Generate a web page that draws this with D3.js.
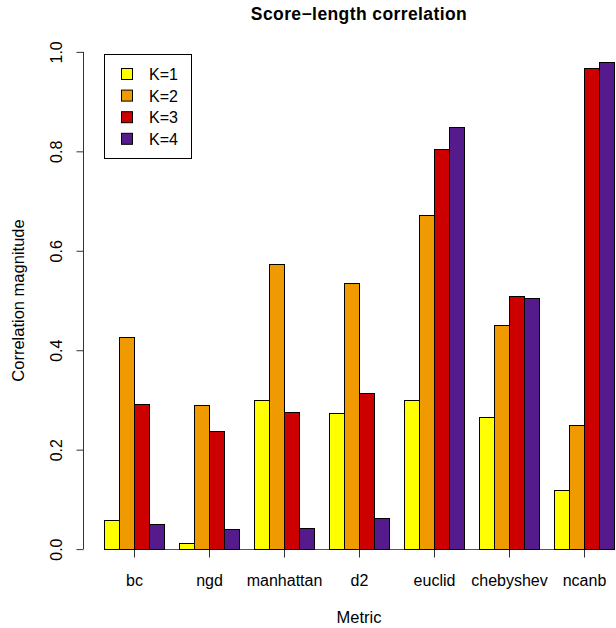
<!DOCTYPE html>
<html>
<head>
<meta charset="utf-8">
<script src="https://cdn.jsdelivr.net/npm/d3@7"></script>
<style>
  body { margin: 0; background: #fff; }
  text { font-family: "Liberation Sans", Arial, sans-serif; fill: #000; }
</style>
</head>
<body>
<div id="chart"></div>
<script>
var width = 616;
var height = 628;

var metrics = ["bc", "ngd", "manhattan", "d2", "euclid", "chebyshev", "ncanb"];
var kLabels = ["K=1", "K=2", "K=3", "K=4"];
var colors = ["#FFFF00", "#EE9A00", "#CD0000", "#551A8B"];
var k1 = [0.058, 0.013, 0.299, 0.273, 0.299, 0.265, 0.119];
var k2 = [0.427, 0.289, 0.574, 0.535, 0.671, 0.451, 0.250];
var k3 = [0.291, 0.238, 0.275, 0.314, 0.805, 0.510, 0.967];
var k4 = [0.050, 0.040, 0.043, 0.062, 0.848, 0.505, 0.980];
var series = [k1, k2, k3, k4];
var yTicks = [0, 0.2, 0.4, 0.6, 0.8, 1.0];

// R barplot units: bar width 1, gap of 1 between groups
var nBars = kLabels.length;
var groupW = nBars + 1;

var x = d3.scaleLinear().domain([-0.36, 36.36]).range([83.6, 634.4]);
var y = d3.scaleLinear().domain([-0.04, 1.04]).range([569, 32]);

var svg = d3.select("#chart")
    .append("svg")
      .attr("width", width)
      .attr("height", height);

var bars = [];
series.forEach(function(vals, j) {
    vals.forEach(function(v, g) {
        bars.push({ g: g, j: j, v: v, left: 1 + g * groupW + j });
    });
});

// y axis
var yAxis = svg.append("g")
    .attr("transform", "translate(" + (Math.round(x.range()[0]) - 0.5) + ",0)")
    .call(d3.axisLeft(y).tickValues(yTicks).tickSize(7).tickSizeOuter(0)
        .tickFormat(d3.format(".1f")));
yAxis.select(".domain")
    .attr("d", "M0," + y(0) + "V" + y(1))
    .attr("stroke", "#333");
yAxis.selectAll(".tick line").attr("stroke", "#333");
yAxis.selectAll(".tick text")
    .attr("x", null).attr("dy", null)
    .attr("transform", "translate(-22,0) rotate(-90)")
    .attr("text-anchor", "middle")
    .attr("font-size", "16px")
    .attr("font-family", "Liberation Sans, Arial, sans-serif");

// x axis at value 0
var mids = metrics.map(function(m, g) { return 1 + g * groupW + nBars / 2; });
var xAxis = svg.append("g")
    .attr("transform", "translate(0," + (Math.round(y(0)) + 0.5) + ")")
    .call(d3.axisBottom(x).tickValues(mids).tickSize(8).tickSizeOuter(0)
        .tickFormat(function(d, i) { return metrics[i]; }));
xAxis.select(".domain")
    .attr("d", "M" + x(mids[0]) + ",0H" + x(mids[mids.length - 1]))
    .attr("stroke", "#555");
xAxis.selectAll(".tick line").attr("stroke", "#333");
xAxis.selectAll(".tick text")
    .attr("y", 36).attr("dy", null)
    .attr("font-size", "16px")
    .attr("font-family", "Liberation Sans, Arial, sans-serif");

// bars drawn over the gray baseline
svg.append("g")
    .selectAll("rect")
    .data(bars)
    .enter().append("rect")
      .attr("x", function(d) { return Math.round(x(d.left)) + 0.5; })
      .attr("y", function(d) { return Math.round(y(d.v)) + 0.5; })
      .attr("width", function(d) { return Math.round(x(d.left + 1)) - Math.round(x(d.left)); })
      .attr("height", function(d) { return Math.round(y(0)) - Math.round(y(d.v)); })
      .attr("fill", function(d) { return colors[d.j]; })
      .attr("stroke", "#000")
      .attr("stroke-width", 1);

// titles
var cx = (x.range()[0] + x.range()[1]) / 2;
svg.append("text")
    .attr("x", cx).attr("y", 20)
    .attr("text-anchor", "middle")
    .attr("font-size", "17.5px")
    .attr("letter-spacing", "0.4px")
    .attr("font-weight", "bold")
    .text("Score\u2212length correlation");

svg.append("text")
    .attr("x", cx).attr("y", 623)
    .attr("text-anchor", "middle")
    .attr("font-size", "16.5px")
    .text("Metric");

svg.append("text")
    .attr("transform", "translate(23.5," + ((y.range()[0] + y.range()[1]) / 2) + ") rotate(-90)")
    .attr("text-anchor", "middle")
    .attr("font-size", "16.5px")
    .text("Correlation magnitude");

// legend
var legend = svg.append("g");
legend.append("rect")
    .attr("x", 104.5).attr("y", 54.5)
    .attr("width", 87).attr("height", 104)
    .attr("fill", "#fff")
    .attr("stroke", "#000");

var item = legend.selectAll("g.item")
    .data(kLabels)
    .enter().append("g")
      .attr("class", "item")
      .attr("transform", function(d, i) { return "translate(0," + (74 + i * 21.6) + ")"; });

item.append("rect")
    .attr("x", 121.5).attr("y", -5.5)
    .attr("width", 11).attr("height", 11)
    .attr("fill", function(d, i) { return colors[i]; })
    .attr("stroke", "#000");

item.append("text")
    .attr("x", 149).attr("y", 6)
    .attr("font-size", "16px")
    .text(function(d) { return d; });
</script>
</body>
</html>
